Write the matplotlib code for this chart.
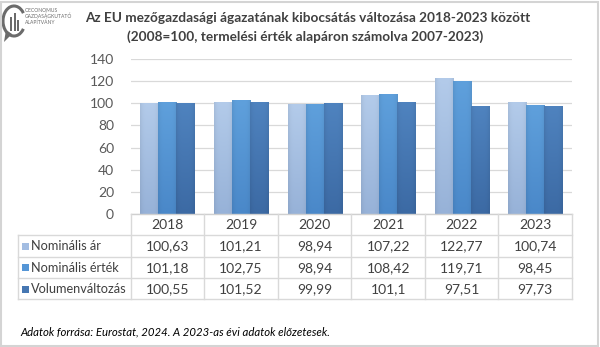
import numpy as np
import matplotlib
matplotlib.use("Agg")
import matplotlib.pyplot as plt
from matplotlib.colors import to_rgb
from matplotlib.patches import Rectangle, Arc, Polygon

years = ["2018", "2019", "2020", "2021", "2022", "2023"]
series_names = ["Nominális ár", "Nominális érték", "Volumenváltozás"]
nominalis_ar = [100.63, 101.21, 98.94, 107.22, 122.77, 100.74]
nominalis_ertek = [101.18, 102.75, 98.94, 108.42, 119.71, 98.45]
volumen = [100.55, 101.52, 99.99, 101.1, 97.51, 97.73]
series = [nominalis_ar, nominalis_ertek, volumen]

title_1 = "Az EU mezőgazdasági ágazatának kibocsátás változása 2018-2023 között"
title_2 = "(2008=100, termelési érték alapáron számolva 2007-2023)"
source = "Adatok forrása: Eurostat, 2024. A 2023-as évi adatok előzetesek."

# top / bottom colours of the gradient for each series
colors_top = ["#b3cbea", "#5fa0dc", "#4f83bf"]
colors_bot = ["#97b2d8", "#4a88c9", "#3c6aa4"]
swatch = ["#a3bde2", "#5596d6", "#4677b2"]

plt.rcParams["font.family"] = ["Lato", "DejaVu Sans"]
W, H = 600, 347
fig = plt.figure(figsize=(W / 100, H / 100), dpi=100)


def fmt(v):
    return f"{v:.2f}".rstrip("0").rstrip(".").replace(".", ",") if v != int(v) else str(int(v))


# frame around the picture
fig.patches.append(Rectangle((1 / W, 1 / H), 1 - 3 / W, 1 - 3 / H, transform=fig.transFigure,
                             fill=False, ec="#d4d4d4", lw=1.5))

# chart area
left, right = 130.7, 572
y0, y140 = 214, 59
ax = fig.add_axes([left / W, 1 - y0 / H, (right - left) / W, (y0 - y140) / H])
ax.set_xlim(-0.5, 5.5)
ax.set_ylim(0, 140)
ax.set_yticks(range(0, 141, 20))
ax.tick_params(axis="y", length=0, pad=12, labelsize=10, labelcolor="#595959")
ax.set_xticks([])
for s in ax.spines.values():
    s.set_visible(False)
ax.grid(axis="y", color="#d9d9d9", lw=0.9)
ax.set_axisbelow(True)

x = np.arange(len(years))
bw = 0.245
for i, vals in enumerate(series):
    bars = ax.bar(x + (i - 1) * bw, vals, bw, color="none", zorder=2)
    top = np.array(to_rgb(colors_top[i]))
    bot = np.array(to_rgb(colors_bot[i]))
    t = np.linspace(0, 1, 64)[:, None, None]
    h = np.linspace(-1, 1, 16)[None, :, None]
    grad = top * (1 - t) + bot * t
    grad = grad * (1 - 0.06 * h ** 4)
    grad = np.clip(grad, 0, 1)
    for b in bars:
        bx, by = b.get_x(), b.get_y()
        im = ax.imshow(grad, extent=[bx, bx + b.get_width(), by, by + b.get_height()],
                       aspect="auto", origin="upper", zorder=2, interpolation="bilinear")
        im.set_clip_path(b)

# data table
tab_left, tab_top, row_h = 18, 214, 21.3
col_w = (right - left) / len(years)
line_c = "#d9d9d9"
tax = fig.add_axes([0, 0, 1, 1])
tax.set_xlim(0, W)
tax.set_ylim(H, 0)
tax.axis("off")
tax.patch.set_alpha(0)

rows_y = [tab_top + k * row_h for k in range(5)]
# horizontal lines
tax.plot([left, right], [rows_y[0]] * 2, color="#d0d0d0", lw=1)
for yy in rows_y[1:]:
    tax.plot([tab_left, right], [yy, yy], color=line_c, lw=1)
# vertical lines
tax.plot([tab_left, tab_left], [rows_y[1], rows_y[4]], color=line_c, lw=1)
for k in range(len(years) + 1):
    xx = left + k * col_w
    tax.plot([xx, xx], [rows_y[0], rows_y[4]], color=line_c, lw=1)

txt_c = "#404040"
for k, yr in enumerate(years):
    tax.text(left + (k + 0.5) * col_w, rows_y[0] + row_h / 2 + 0.5, yr, ha="center", va="center",
             fontsize=10, color=txt_c)
for r, (name, vals) in enumerate(zip(series_names, series)):
    yc = rows_y[r + 1] + row_h / 2 + 0.5
    tax.add_patch(Rectangle((22, yc - 3.5), 7, 7, color=swatch[r], lw=0))
    tax.text(31, yc, name, ha="left", va="center", fontsize=9.2, color=txt_c)
    for k, v in enumerate(vals):
        tax.text(left + (k + 0.5) * col_w, yc, fmt(v), ha="center", va="center",
                 fontsize=10, color=txt_c)

# titles
tax.text(308, 18, title_1, ha="center", va="center", fontsize=9.85, fontweight="bold", color="#404040")
tax.text(305, 37, title_2, ha="center", va="center", fontsize=9.85, fontweight="bold", color="#404040")
tax.text(20, 332, source, ha="left", va="center", fontsize=8.2, style="italic", color="#000000")

# logo
gray = "#6b6b6b"
tax.add_patch(Arc((14, 21), 22, 30, theta1=40, theta2=320, color=gray, lw=2.2))
tax.add_patch(Polygon([[6, 30], [4, 42], [12, 34]], closed=True, color=gray, lw=0))
for bx_, bt in zip([10, 13.5, 17], [17, 13, 20]):
    tax.add_patch(Rectangle((bx_, bt), 2.2, 31 - bt, color=gray, lw=0))
for k, s in enumerate(["OECONOMUS", "GAZDASÁGKUTATÓ", "ALAPÍTVÁNY"]):
    tax.text(25, 10 + k * 6, s, ha="left", va="center", fontsize=3.6, color=gray)

fig.savefig("out.png", dpi=100)
